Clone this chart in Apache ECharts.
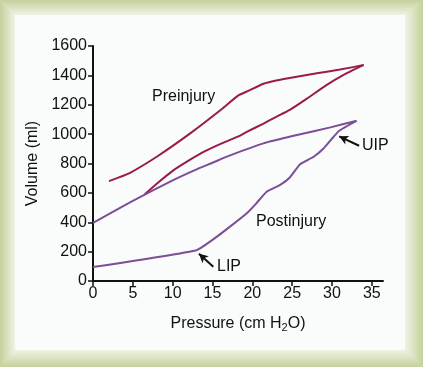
<!DOCTYPE html>
<html>
<head>
<meta charset="utf-8">
<script src="https://cdn.jsdelivr.net/npm/echarts@6/dist/echarts.min.js"></script>
<style>html,body{margin:0;padding:0;background:#fff;}#c{width:423px;height:367px;}</style>
</head>
<body>
<div id="c"></div>
<script>
// Preinjury deflation (upper) limb
const preUpperP = [2, 3, 4.6, 8, 12.2, 16.3, 18.2, 19.5, 21.4, 23, 24.5, 28.1, 31, 34];
const preUpperV = [680, 700, 735, 846, 1005, 1176, 1262, 1295, 1343, 1365, 1380, 1414, 1440, 1470];
// Preinjury inflation (lower) limb
const preLowerP = [6.5, 8, 10, 12.2, 14, 16.3, 18.4, 19.3, 21.4, 23, 24.7, 26.8, 29.3, 31.4, 33.9];
const preLowerV = [590, 662, 750, 826, 882, 940, 988, 1015, 1072, 1118, 1165, 1240, 1334, 1402, 1470];
// Postinjury deflation (upper) limb
const postUpperP = [0, 5, 10, 13, 15, 17.2, 21.4, 25.6, 29.8, 33];
const postUpperV = [395, 545, 685, 760, 805, 855, 937, 994, 1046, 1090];
// Postinjury inflation (lower) limb
const postLowerP = [0, 13, 15, 17.2, 19.3, 20.5, 21.8, 23.5, 24.7, 26, 27.7, 28.9, 30.2, 30.9, 33.1];
const postLowerV = [95, 210, 280, 370, 461, 529, 608, 654, 705, 795, 846, 900, 982, 1023, 1092];
// Axis ticks
const xTicks = [0, 5, 10, 15, 20, 25, 30, 35];
const yTicks = [0, 200, 400, 600, 800, 1000, 1200, 1400, 1600];

const RED = '#9b1a4d';
const PURPLE = '#7b4f97';
const FONT = '"Liberation Sans", Arial, Helvetica, sans-serif';

const zip = (a, b) => a.map((v, i) => [v, b[i]]);
const chart = echarts.init(document.getElementById('c'), null, {renderer: 'canvas'});

const W = 423, H = 367;
const L = 15, T = 15, R = 405, B = 350;
const OUT = '#c4d09c', IN = '#eef3e3';
function grad(x0, y0, x1, y1) {
  return new echarts.graphic.LinearGradient(x0, y0, x1, y1, [
    {offset: 0, color: OUT}, {offset: 1, color: IN}
  ]);
}

const frame = [
  {type: 'rect', shape: {x: 0, y: 0, width: W, height: H}, style: {fill: '#d8e1bb'}, z: -20, silent: true},
  {type: 'polygon', shape: {points: [[0,0],[W,0],[R,T],[L,T]]}, style: {fill: grad(0,0,0,1)}, z: -19, silent: true},
  {type: 'polygon', shape: {points: [[0,H],[W,H],[R,B],[L,B]]}, style: {fill: grad(0,1,0,0)}, z: -19, silent: true},
  {type: 'polygon', shape: {points: [[0,0],[L,T],[L,B],[0,H]]}, style: {fill: grad(0,0,1,0)}, z: -19, silent: true},
  {type: 'polygon', shape: {points: [[W,0],[R,T],[R,B],[W,H]]}, style: {fill: grad(1,0,0,0)}, z: -19, silent: true},
  {type: 'rect', shape: {x: L, y: T, width: R - L, height: B - T}, style: {fill: '#f9fcfb'}, z: -18, silent: true}
];

const txt = (x, y, s, align) => ({
  type: 'text', x: x, y: y, z: 10, silent: true,
  style: {text: s, fontSize: 16, fontFamily: FONT, fill: '#111', align: align || 'left', verticalAlign: 'middle'}
});

function arrowLine(from, to) {
  return {
    data: [[{coord: from, symbol: 'none'}, {coord: to, symbol: 'arrow'}]],
    symbolSize: [7, 9],
    silent: true,
    label: {show: false},
    lineStyle: {color: '#111', width: 2, type: 'solid'}
  };
}

const lineSeries = (p, v, color, smooth, extra) => Object.assign({
  type: 'line',
  data: zip(p, v),
  symbol: 'none',
  smooth: smooth,
  lineStyle: {color: color, width: 2},
  silent: true,
  animation: false
}, extra || {});

chart.setOption({
  animation: false,
  textStyle: {fontFamily: FONT},
  grid: {left: 93, right: 40, top: 46, bottom: 86, containLabel: false},
  xAxis: {
    type: 'value', min: 0, max: 36.4, interval: 5,
    name: '{n|Pressure (cm H}{s|2}{n|O)}',
    nameLocation: 'middle', nameGap: 33,
    nameTextStyle: {rich: {n: {fontSize: 16, fontFamily: FONT, color: '#111'}, s: {fontSize: 11, fontFamily: FONT, color: '#111', verticalAlign: 'bottom', padding: [8, 0, 0, 0]}}},
    axisLine: {show: true, lineStyle: {color: '#111', width: 2}},
    axisTick: {show: true, length: 5, lineStyle: {color: '#111', width: 1.5}, customValues: xTicks},
    axisLabel: {fontSize: 16, color: '#111', margin: 5, customValues: xTicks, fontFamily: FONT},
    splitLine: {show: false}
  },
  yAxis: {
    type: 'value', min: 0, max: 1600, interval: 200,
    name: 'Volume (ml)', nameLocation: 'middle', nameGap: 44,
    nameTextStyle: {fontSize: 16, color: '#111', fontFamily: FONT},
    axisLine: {show: true, lineStyle: {color: '#111', width: 2}},
    axisTick: {show: true, length: 5, lineStyle: {color: '#111', width: 1.5}, customValues: yTicks},
    axisLabel: {fontSize: 16, color: '#111', margin: 6, customValues: yTicks, fontFamily: FONT, formatter: v => String(v)},
    splitLine: {show: false}
  },
  series: [
    lineSeries(preUpperP, preUpperV, RED, 0.15),
    lineSeries(preLowerP, preLowerV, RED, 0.15),
    lineSeries(postUpperP, postUpperV, PURPLE, 0.2),
    lineSeries(postLowerP, postLowerV, PURPLE, 0.15, {markLine: arrowLine([15.1, 97], [13.3, 186])}),
    {type: 'line', data: [], markLine: arrowLine([33.4, 921], [30.9, 985])}
  ],
  graphic: frame.concat([
    txt(152, 97, 'Preinjury'),
    txt(256, 222, 'Postinjury'),
    txt(217, 267, 'LIP'),
    txt(362, 146, 'UIP')
  ])
});
</script>
</body>
</html>
